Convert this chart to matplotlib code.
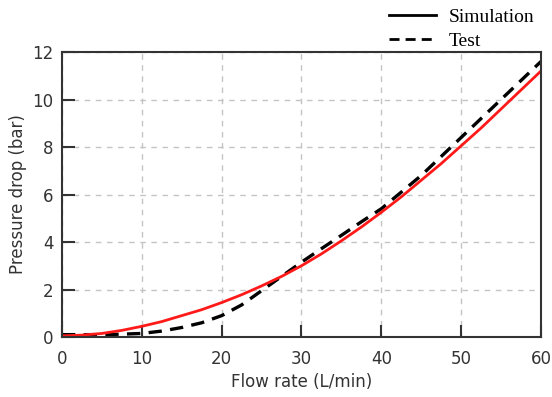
import matplotlib
matplotlib.use("Agg")
import matplotlib.pyplot as plt
from matplotlib.lines import Line2D

# ---------------- DATA ----------------
flow = [0, 2.5, 5, 7.5, 10, 12.5, 15, 17.5, 20, 22.5, 25, 27.5, 30, 32.5, 35,
        37.5, 40, 42.5, 45, 47.5, 50, 52.5, 55, 57.5, 60]
sim_dp = [0.05, 0.08, 0.15, 0.28, 0.45, 0.65, 0.9, 1.15, 1.45, 1.78, 2.15, 2.55,
          3.0, 3.5, 4.05, 4.63, 5.25, 5.9, 6.6, 7.3, 8.05, 8.8, 9.6, 10.4, 11.2]
test_dp = [0.1, 0.1, 0.1, 0.12, 0.15, 0.25, 0.4, 0.6, 0.9, 1.35, 1.95, 2.55,
           3.15, 3.72, 4.28, 4.85, 5.4, 6.1, 6.8, 7.6, 8.4, 9.2, 10.0, 10.8, 11.6]

x_ticks = [0, 10, 20, 30, 40, 50, 60]
y_ticks = [0, 2, 4, 6, 8, 10, 12]

# ---------------- PLOT ----------------
fig = plt.figure(figsize=(5.52, 3.97), dpi=100)
ax = fig.add_axes([0.1123, 0.1511, 0.8677, 0.7179])

ax.plot(flow, test_dp, color="black", linestyle=(0, (4, 2.5)), linewidth=2.4)
ax.plot(flow, sim_dp, color="#ff1a1a", linewidth=2.0)

ax.set_xlim(0, 60)
ax.set_ylim(0, 12)
ax.set_xticks(x_ticks)
ax.set_yticks(y_ticks)
ax.grid(True, color="#c4c4c4", linestyle=(0, (4, 4)), linewidth=1.0)
ax.set_axisbelow(True)

ax.tick_params(direction="in", length=9, width=1.5, color="#333333",
               labelsize=12, labelcolor="#333333")
ax.tick_params(axis="x", pad=9)
ax.tick_params(axis="y", pad=6)
for s in ax.spines.values():
    s.set_color("#333333")
    s.set_linewidth(1.5)

ax.set_xlabel("Flow rate (L/min)", fontsize=12, color="#333333", labelpad=4)
ax.set_ylabel("Pressure drop (bar)", fontsize=12, color="#333333", labelpad=4)

handles = [Line2D([], [], color="black", linewidth=2.0),
           Line2D([], [], color="black", linewidth=2.0, linestyle=(0, (3.6, 2.2)))]
fig.legend(handles, ["Simulation", "Test"], loc="upper right",
           bbox_to_anchor=(0.968, 0.98), frameon=False,
           prop={"family": "Liberation Serif", "size": 14},
           handlelength=2.4, handletextpad=0.65, labelspacing=0.35,
           borderpad=0, borderaxespad=0)

fig.savefig("out.png", dpi=100)
